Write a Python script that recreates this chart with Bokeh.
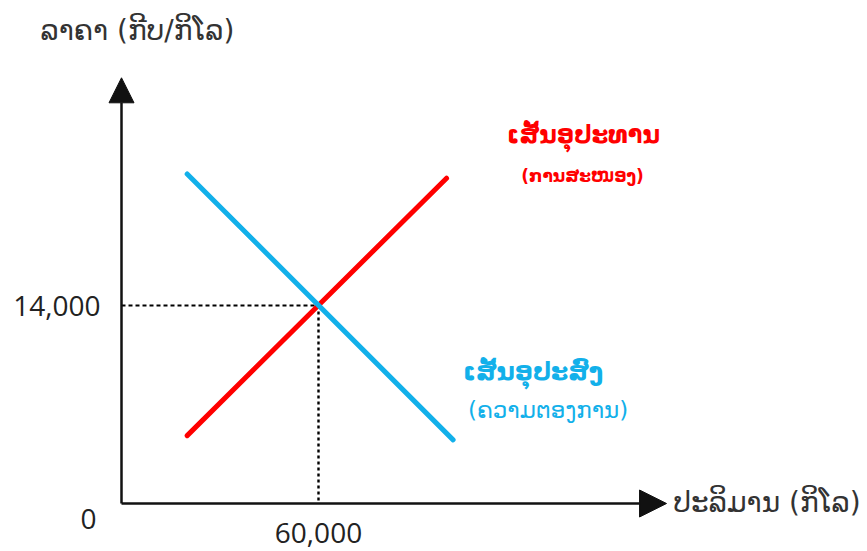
from bokeh.plotting import figure
from bokeh.models import Range1d, Arrow, NormalHead
from bokeh.core.properties import value
from bokeh.embed import file_html
from bokeh.resources import INLINE

# ---- data ----
eq_quantity = 60000
eq_price = 14000
supply_x = [20000, 99000]
supply_y = [4800, 23000]
demand_x = [20000, 101000]
demand_y = [23300, 4500]
x_tick_labels = ["60,000"]
y_tick_labels = ["14,000"]
origin_label = "0"
x_title = "ປະລິມານ (ກິໂລ)"
y_title = "ລາຄາ (ກີບ/ກິໂລ)"
supply_title = "ເສັ້ນອຸປະທານ"
supply_sub = "(ການສະໜອງ)"
demand_title = "ເສັ້ນອຸປະສົງ"
demand_sub = "(ຄວາມຕອງການ)"
axis_x_max = 166000
axis_y_max = 30100

# ---- layout (canvas px -> data) ----
W, H = 867, 551
ox, oy = 121, 503          # origin in px
kx = 197 / 60000           # px per unit
ky = 198 / 14000
x0 = (0 - ox) / kx
x1 = (W - ox) / kx
y0 = (oy - H) / ky
y1 = (oy - 0) / ky

p = figure(width=W, height=H, output_backend="svg", toolbar_location=None,
           x_range=Range1d(x0, x1), y_range=Range1d(y0, y1),
           min_border=0, outline_line_color=None)
p.axis.visible = False
p.grid.visible = False

BLACK = "#111111"
RED = "#FF0000"
BLUE = "#12B0EA"

# axes with arrow heads
p.add_layout(Arrow(end=NormalHead(size=27, fill_color=BLACK, line_color=BLACK, line_width=1),
                   x_start=0, y_start=0, x_end=axis_x_max, y_end=0,
                   line_color=BLACK, line_width=2.5))
p.add_layout(Arrow(end=NormalHead(size=25, fill_color=BLACK, line_color=BLACK, line_width=1),
                   x_start=0, y_start=0, x_end=0, y_end=axis_y_max,
                   line_color=BLACK, line_width=2.5))

# dashed guides
p.line([0, eq_quantity], [eq_price, eq_price], line_color="#000000", line_width=2.2, line_dash="4 3")
p.line([eq_quantity, eq_quantity], [eq_price, 0], line_color="#000000", line_width=2.4, line_dash="3 3")

# curves
p.line(supply_x, supply_y, line_color=RED, line_width=5, line_cap="round")
p.line(demand_x, demand_y, line_color=BLUE, line_width=5, line_cap="round")

NUMF = value("Open Sans")
LAOF = value("DejaVu Sans")

# tick labels
p.text(x=[0], y=[eq_price], text=y_tick_labels, x_offset=-21, text_align="right",
       text_baseline="middle", text_font=NUMF, text_font_size="28px", text_color="#222222")
p.text(x=[eq_quantity], y=[0], text=x_tick_labels, y_offset=29, text_align="center",
       text_baseline="middle", text_font=NUMF, text_font_size="28px", text_color="#222222")
p.text(x=[0], y=[0], text=[origin_label], x_offset=-33, y_offset=15, text_align="center",
       text_baseline="middle", text_font=NUMF, text_font_size="28px", text_color="#222222")

# axis titles
p.text(x=[0], y=[axis_y_max], text=[y_title], x_offset=-81, y_offset=-47, text_align="left",
       text_baseline="middle", text_font=LAOF, text_font_size="28px", text_color="#333333")
p.text(x=[axis_x_max], y=[0], text=[x_title], x_offset=7, y_offset=-1, text_align="left",
       text_baseline="middle", text_font=LAOF, text_font_size="28px", text_color="#333333")

# curve labels
p.text(x=[supply_x[1]], y=[supply_y[1]], text=[supply_title], x_offset=137, y_offset=-43,
       text_align="center", text_baseline="middle", text_font=LAOF, text_font_size="24px",
       text_font_style="bold", text_color=RED)
p.text(x=[supply_x[1]], y=[supply_y[1]], text=[supply_sub], x_offset=136, y_offset=-2,
       text_align="center", text_baseline="middle", text_font=LAOF, text_font_size="17px",
       text_font_style="bold", text_color=RED)
p.text(x=[demand_x[1]], y=[demand_y[1]], text=[demand_title], x_offset=80, y_offset=-68,
       text_align="center", text_baseline="middle", text_font=LAOF, text_font_size="25px",
       text_font_style="bold", text_color=BLUE)
p.text(x=[demand_x[1]], y=[demand_y[1]], text=[demand_sub], x_offset=95, y_offset=-30,
       text_align="center", text_baseline="middle", text_font=LAOF, text_font_size="23px",
       text_color=BLUE)

open("out.html", "w").write(file_html(p, INLINE))
